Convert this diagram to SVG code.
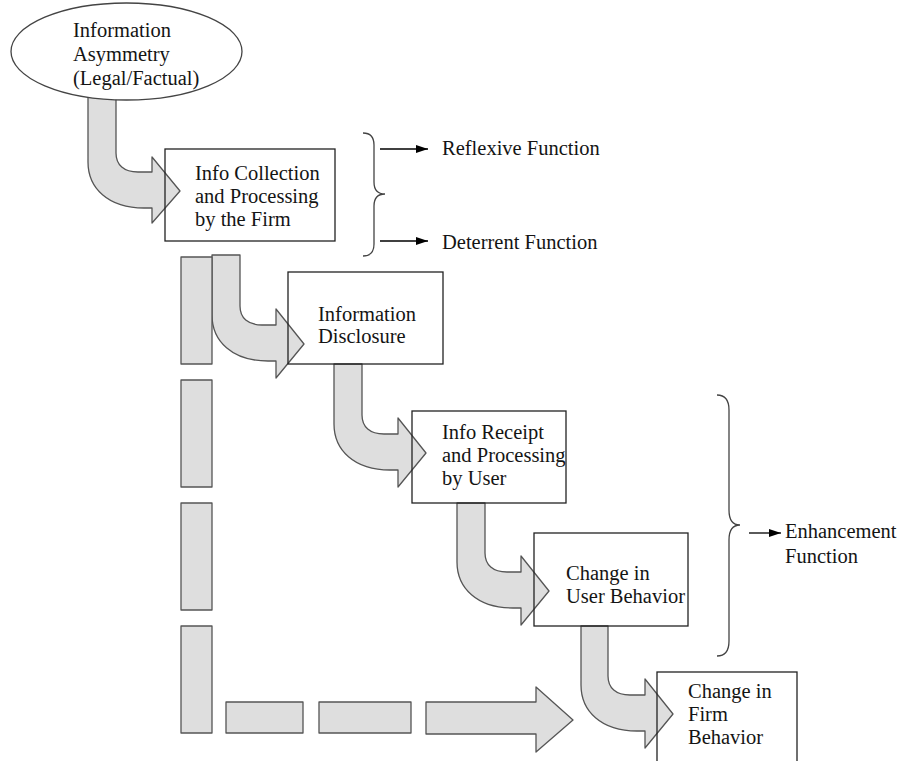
<svg xmlns="http://www.w3.org/2000/svg" width="900" height="761" viewBox="0 0 900 761">
<defs>
<style>
.t{font-family:"Liberation Serif","Times New Roman",serif;font-size:20.5px;fill:#141414}
.arr{fill:#dedede;stroke:#555;stroke-width:1.3;stroke-linejoin:round}
.box{fill:none;stroke:#222;stroke-width:1.3}
.brace{fill:none;stroke:#444;stroke-width:1.3}
.ln{stroke:#000;stroke-width:1.3;fill:none}
</style>
<marker id="ah" markerUnits="userSpaceOnUse" markerWidth="14" markerHeight="10" refX="12" refY="5" orient="auto">
<polygon points="0,1 12,5 0,9" fill="#000"/>
</marker>
</defs>
<rect width="900" height="761" fill="#fff"/>
<g id="connectors">
<path class="arr" d="M88,92 H116 V153 C116,165 124,172 138,172 H152 V157 L180,191 L152,223 V208 H144 C108,208 88,188 88,162 Z"/>
<path class="arr" d="M212,255 H240 V306 C240,318 248,325 262,325 H276 V309 L304,344 L276,378 V361 H268 C232,361 212,341 212,315 Z"/>
<path class="arr" d="M334,364 H362 V415 C362,427 370,434 384,434 H398 V418 L426,453 L398,487 V470 H390 C354,470 334,450 334,424 Z"/>
<path class="arr" d="M457,503 H485 V553 C485,565 493,572 507,572 H521 V556 L549,591 L521,625 V608 H513 C477,608 457,588 457,562 Z"/>
<path class="arr" d="M581,626 H608 V676 C608,688 616,695 630,695 H645 V679 L673,714 L645,748 V731 H637 C601,731 581,711 581,685 Z"/>
<rect class="arr" x="181" y="257" width="31" height="107"/>
<rect class="arr" x="181" y="380" width="31" height="107"/>
<rect class="arr" x="181" y="503" width="31" height="107"/>
<rect class="arr" x="181" y="626" width="31" height="107"/>
<rect class="arr" x="226" y="702" width="77" height="31"/>
<rect class="arr" x="319" y="702" width="92" height="31"/>
<path class="arr" d="M426,702 H536 V687 L573,720 L536,752 V734 H426 Z"/>
<line class="ln" x1="380" y1="149" x2="428" y2="149" marker-end="url(#ah)"/>
<line class="ln" x1="380" y1="241" x2="428" y2="241" marker-end="url(#ah)"/>
<line class="ln" x1="749" y1="533" x2="781" y2="533" marker-end="url(#ah)"/>
</g>
<g id="n-asymmetry">
<ellipse cx="126.5" cy="51.5" rx="115.5" ry="48.5" fill="#fff" stroke="#444" stroke-width="1.3"/>
<text class="t" x="73" y="37">Information</text>
<text class="t" x="73" y="61">Asymmetry</text>
<text class="t" x="73" y="85">(Legal/Factual)</text>
</g>
<g id="n-collection">
<rect class="box" x="165" y="149" width="170" height="92"/>
<text class="t" x="195" y="180">Info Collection</text>
<text class="t" x="195" y="203">and Processing</text>
<text class="t" x="195" y="226">by the Firm</text>
</g>
<g id="n-disclosure">
<rect class="box" x="288" y="272" width="155" height="92"/>
<text class="t" x="318" y="321">Information</text>
<text class="t" x="318" y="343">Disclosure</text>
</g>
<g id="n-receipt">
<rect class="box" x="412" y="411" width="154" height="92"/>
<text class="t" x="442" y="439">Info Receipt</text>
<text class="t" x="442" y="462">and Processing</text>
<text class="t" x="442" y="485">by User</text>
</g>
<g id="n-user">
<rect class="box" x="534" y="533" width="154" height="93"/>
<text class="t" x="566" y="580">Change in</text>
<text class="t" x="566" y="603">User Behavior</text>
</g>
<g id="n-firm">
<rect class="box" x="657" y="672" width="140" height="110"/>
<text class="t" x="688" y="698">Change in</text>
<text class="t" x="688" y="721">Firm</text>
<text class="t" x="688" y="744">Behavior</text>
</g>
<g id="b-firm">
<path class="brace" d="M363,133 C370,133 374,137 374,145 V182 C374,190 378,194 385,194 C378,194 374,198 374,206 V244 C374,252 370,256 363,256"/>
<text class="t" x="442" y="155">Reflexive Function</text>
<text class="t" x="442" y="249">Deterrent Function</text>
</g>
<g id="b-enh">
<path class="brace" d="M717,395 C725,395 729,400 729,410 V510 C729,520 733,525 740,525 C733,525 729,530 729,540 V641 C729,651 725,656 717,656"/>
<text class="t" x="785" y="538">Enhancement</text>
<text class="t" x="785" y="563">Function</text>
</g>
</svg>
